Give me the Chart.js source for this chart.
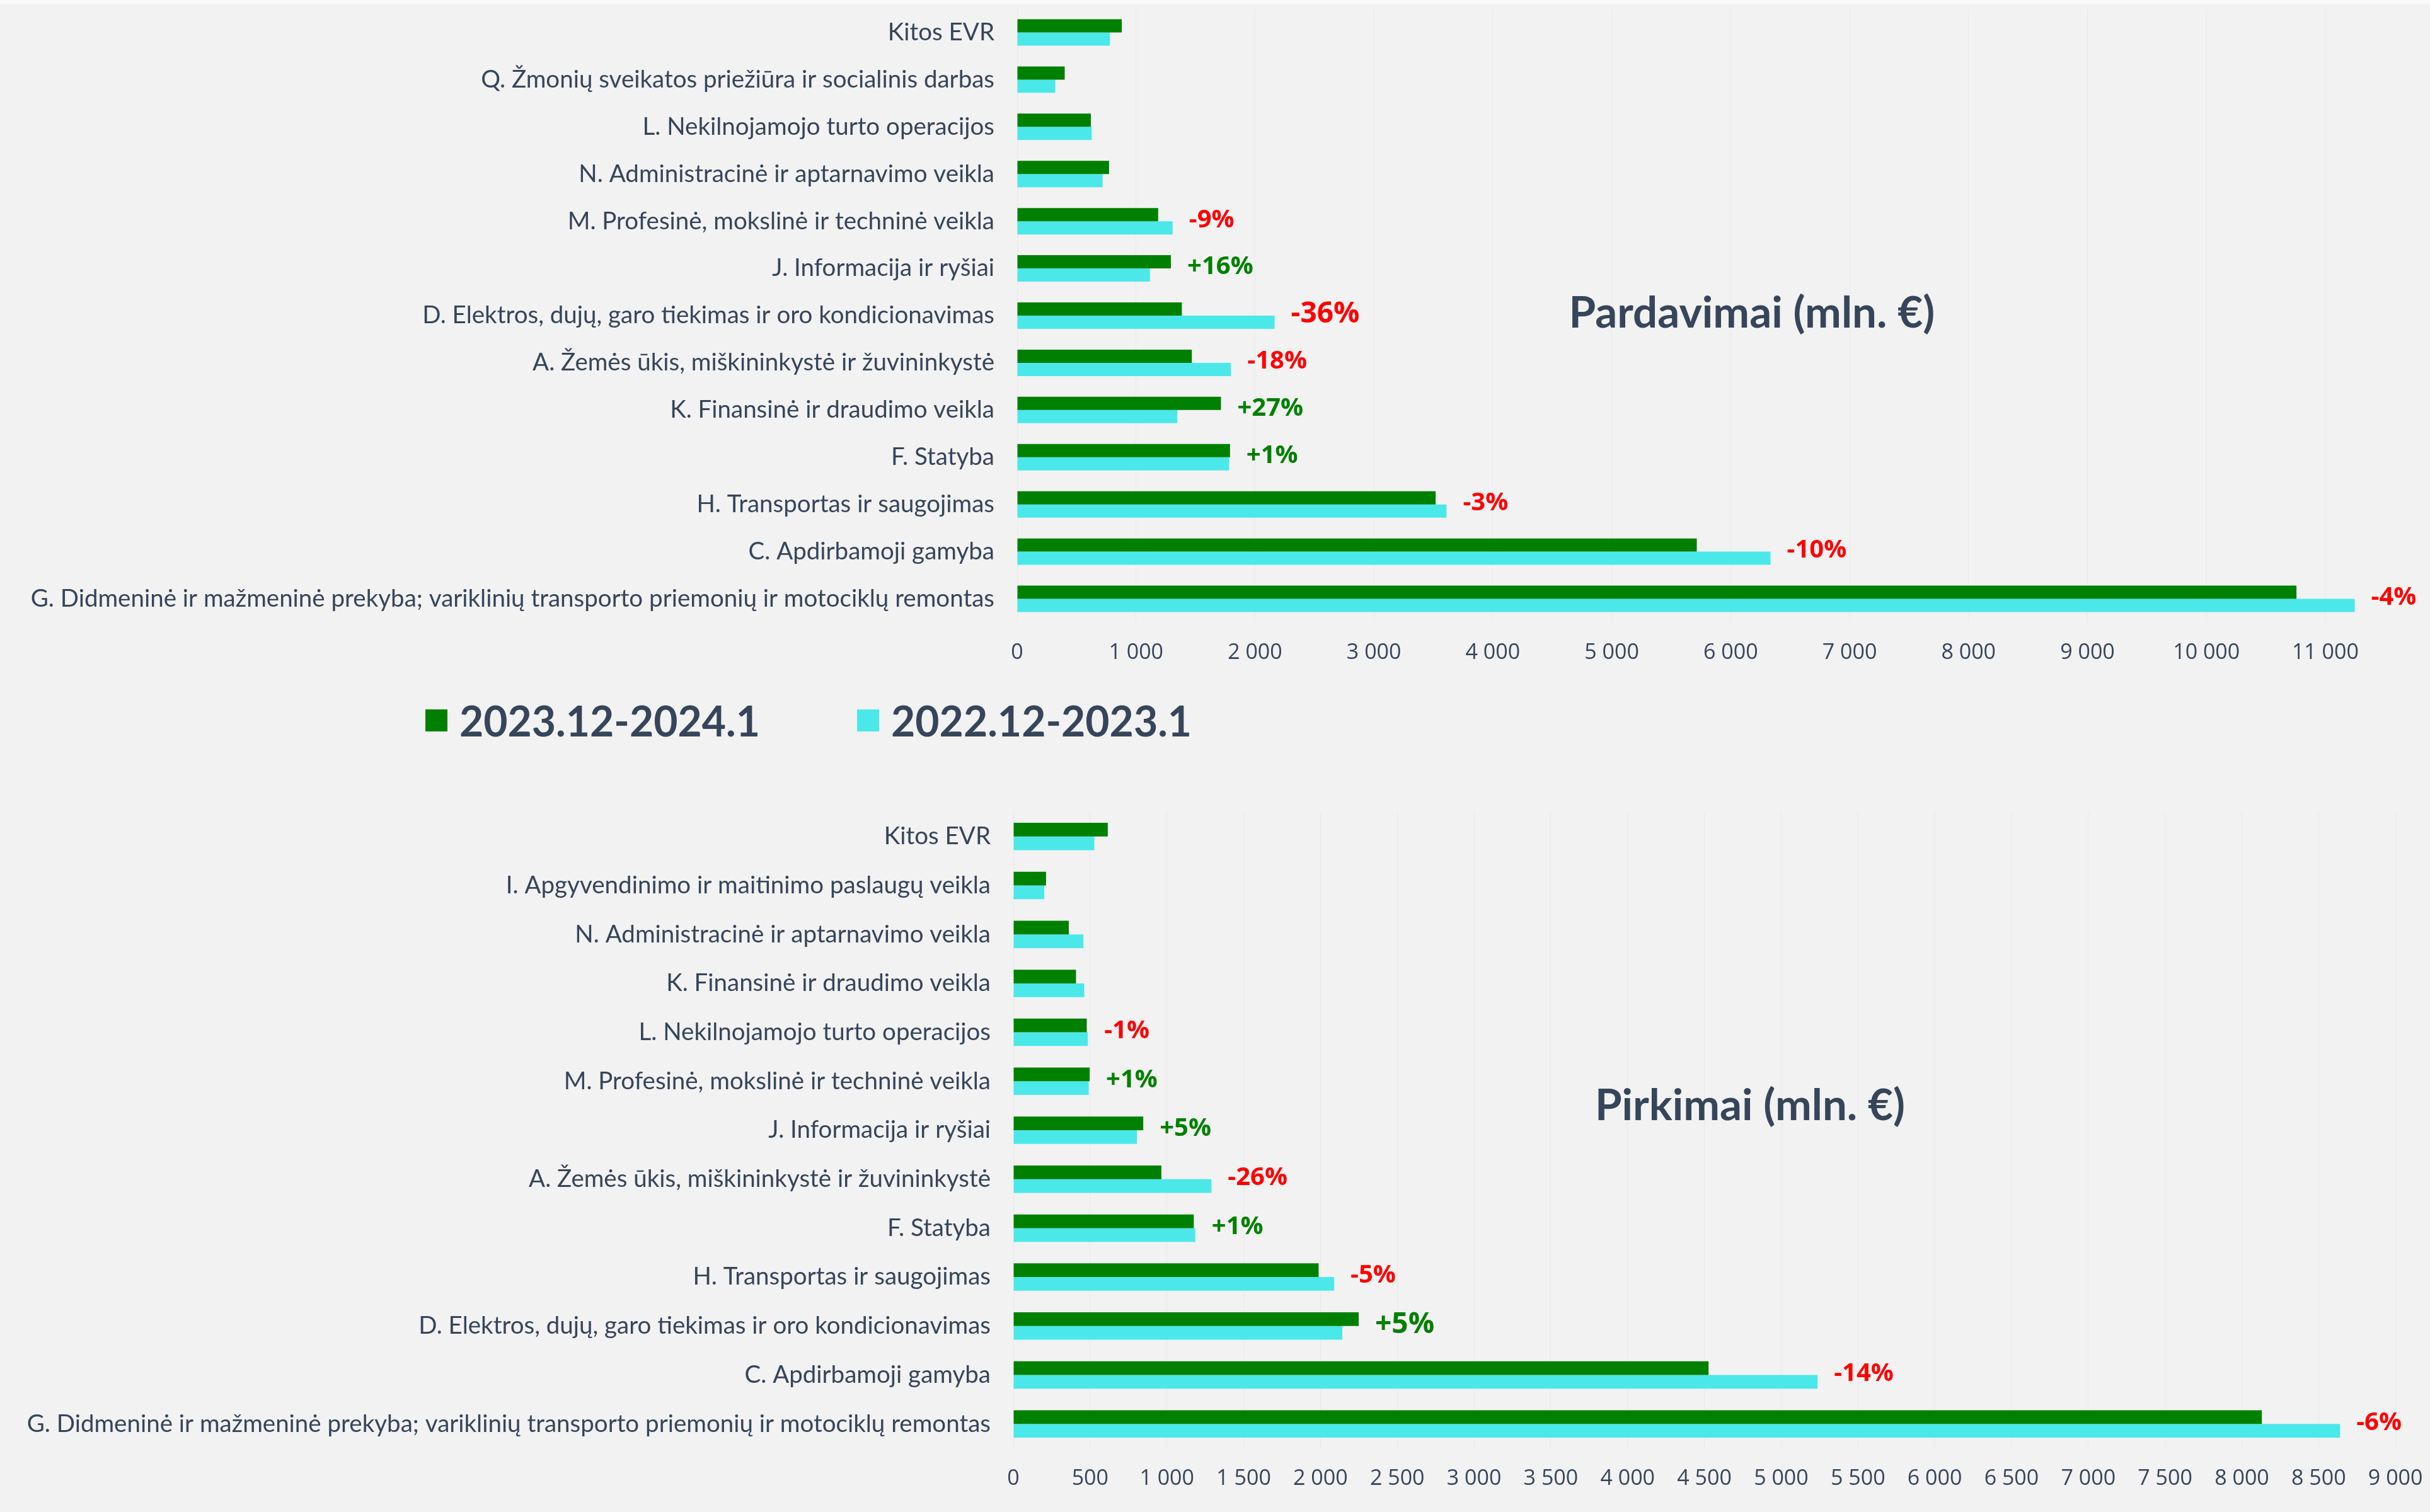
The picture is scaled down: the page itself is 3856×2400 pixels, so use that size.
<!DOCTYPE html>
<html>
<head>
<meta charset="utf-8">
<script src="https://cdn.jsdelivr.net/npm/chart.js@4"></script>
<style>
  body { margin: 0; background: #f2f2f2; }
  .page { position: relative; width: 3856px; height: 2400px; background: #f2f2f2; border-top: 6px solid #fafafa; box-sizing: border-box; }
  .box { position: absolute; left: 0; width: 3856px; }
  #top { top: 0; height: 1084px; }
  #bottom { top: 1184px; height: 1210px; }
  .legend { position: absolute; top: 1098px; left: 675px; display: flex; align-items: center;
            font-family: Lato, sans-serif; font-weight: bold; font-size: 66px; color: #36455a; }
  .legend span.sq { display: inline-block; width: 35px; height: 35px; margin-right: 19px; }
  .legend .item { display: flex; align-items: center; margin-right: 154px; }
</style>
</head>
<body>
<div class="page">
  <div class="box" id="top"><canvas id="chartTop"></canvas></div>
  <div class="legend" id="legend"></div>
  <div class="box" id="bottom"><canvas id="chartBottom"></canvas></div>
</div>
<script>
const seriesNames = ['2023.12-2024.1', '2022.12-2023.1'];
const seriesColors = ['#008000', '#4be8ea'];

// Pardavimai
const salesLabels = ['Kitos EVR', 'Q. Žmonių sveikatos priežiūra ir socialinis darbas', 'L. Nekilnojamojo turto operacijos',
  'N. Administracinė ir aptarnavimo veikla', 'M. Profesinė, mokslinė ir techninė veikla', 'J. Informacija ir ryšiai',
  'D. Elektros, dujų, garo tiekimas ir oro kondicionavimas', 'A. Žemės ūkis, miškininkystė ir žuvininkystė',
  'K. Finansinė ir draudimo veikla', 'F. Statyba', 'H. Transportas ir saugojimas', 'C. Apdirbamoji gamyba',
  'G. Didmeninė ir mažmeninė prekyba; variklinių transporto priemonių ir motociklų remontas'];
const salesNow = [880, 400, 620, 773, 1186, 1293, 1385, 1469, 1714, 1790, 3519, 5715, 10757];
const salesPrev = [780, 321, 627, 719, 1308, 1117, 2165, 1798, 1347, 1783, 3611, 6335, 11247];
const salesPct = ['', '', '', '', '-9%', '+16%', '-36%', '-18%', '+27%', '+1%', '-3%', '-10%', '-4%'];

// Pirkimai
const buyLabels = ['Kitos EVR', 'I. Apgyvendinimo ir maitinimo paslaugų veikla', 'N. Administracinė ir aptarnavimo veikla',
  'K. Finansinė ir draudimo veikla', 'L. Nekilnojamojo turto operacijos', 'M. Profesinė, mokslinė ir techninė veikla',
  'J. Informacija ir ryšiai', 'A. Žemės ūkis, miškininkystė ir žuvininkystė', 'F. Statyba', 'H. Transportas ir saugojimas',
  'D. Elektros, dujų, garo tiekimas ir oro kondicionavimas', 'C. Apdirbamoji gamyba',
  'G. Didmeninė ir mažmeninė prekyba; variklinių transporto priemonių ir motociklų remontas'];
const buyNow = [615, 213, 361, 408, 478, 497, 846, 964, 1175, 1988, 2249, 4527, 8130];
const buyPrev = [527, 201, 456, 462, 485, 491, 805, 1290, 1185, 2089, 2142, 5237, 8639];
const buyPct = ['', '', '', '', '-1%', '+1%', '+5%', '-26%', '+1%', '-5%', '+5%', '-14%', '-6%'];

const textColor = '#36455a';
const fmt = v => String(v).replace(/\B(?=(\d{3})+(?!\d))/g, ' ');

// html legend
const legendEl = document.getElementById('legend');
seriesNames.forEach((n, i) => {
  const it = document.createElement('div');
  it.className = 'item';
  it.innerHTML = '<span class="sq" style="background:' + seriesColors[i] + '"></span>' + n;
  legendEl.appendChild(it);
});

const pctPlugin = {
  id: 'pct',
  afterDatasetsDraw(chart, args, opts) {
    const ctx = chart.ctx, x = chart.scales.x, y = chart.scales.y;
    const d0 = chart.data.datasets[0].data, d1 = chart.data.datasets[1].data;
    ctx.save();
    ctx.textBaseline = 'middle';
    ctx.textAlign = 'left';
    opts.labels.forEach((t, i) => {
      if (!t) return;
      const big = opts.big.includes(i);
      ctx.font = 'bold ' + (big ? 46 : 40) + 'px "Open Sans"';
      ctx.fillStyle = t[0] === '-' ? '#ff0000' : '#008000';
      ctx.fillText(t, x.getPixelForValue(Math.max(d0[i], d1[i])) + 26, y.getPixelForValue(i) - 2);
    });
    ctx.restore();
  }
};

const titlePlugin = {
  id: 'inTitle',
  afterDraw(chart, args, opts) {
    const a = chart.chartArea, ctx = chart.ctx;
    ctx.save();
    ctx.font = 'bold 69px Lato';
    ctx.fillStyle = textColor;
    ctx.textAlign = 'center';
    ctx.textBaseline = 'middle';
    ctx.fillText(opts.text, a.left + (a.right - a.left) * opts.fx, a.top + (a.bottom - a.top) * opts.fy);
    ctx.restore();
  }
};

function makeChart(id, labels, now, prev, pct, big, max, step, title, fy, pad, yWidth) {
  new Chart(document.getElementById(id), {
    type: 'bar',
    data: {
      labels: labels,
      datasets: [
        { label: seriesNames[0], data: now, backgroundColor: seriesColors[0] },
        { label: seriesNames[1], data: prev, backgroundColor: seriesColors[1] }
      ]
    },
    options: {
      indexAxis: 'y',
      responsive: true,
      maintainAspectRatio: false,
      animation: false,
      datasets: { bar: { categoryPercentage: 0.56, barPercentage: 1 } },
      layout: { padding: pad },
      scales: {
        x: {
          min: 0, max: max,
          grid: { color: 'rgba(0,0,0,0.035)', drawTicks: false },
          border: { display: false },
          afterBuildTicks: s => {
            const t = [];
            for (let v = 0; v <= max; v += step) t.push({ value: v });
            s.ticks = t;
          },
          afterFit: s => { s.height = 80; s.paddingLeft = 0; s.paddingRight = 0; },
          ticks: { padding: 28, color: textColor, font: { family: 'Open Sans', size: 34 },
                   maxRotation: 0, autoSkip: false, callback: v => fmt(v) }
        },
        y: {
          grid: { display: false, drawTicks: false },
          border: { display: false },
          afterFit: s => { s.width = yWidth; s.paddingTop = 0; s.paddingBottom = 0; },
          ticks: { padding: 36, color: textColor, font: { family: 'Lato', size: 38.5 }, autoSkip: false }
        }
      },
      plugins: {
        legend: { display: false },
        tooltip: { enabled: false },
        pct: { labels: pct, big: big },
        inTitle: { text: title, fx: 0.52, fy: fy }
      }
    },
    plugins: [pctPlugin, titlePlugin]
  });
}

makeChart('chartTop', salesLabels, salesNow, salesPrev, salesPct, [6], 11880, 1000,
  'Pardavimai (mln. €)', 0.497, { top: 8, bottom: 22, left: 0, right: 0 }, 1614);
makeChart('chartBottom', buyLabels, buyNow, buyPrev, buyPct, [10], 9225, 500,
  'Pirkimai (mln. €)', 0.462, { top: 99, bottom: 21, left: 0, right: 0 }, 1608);
</script>
</body>
</html>
